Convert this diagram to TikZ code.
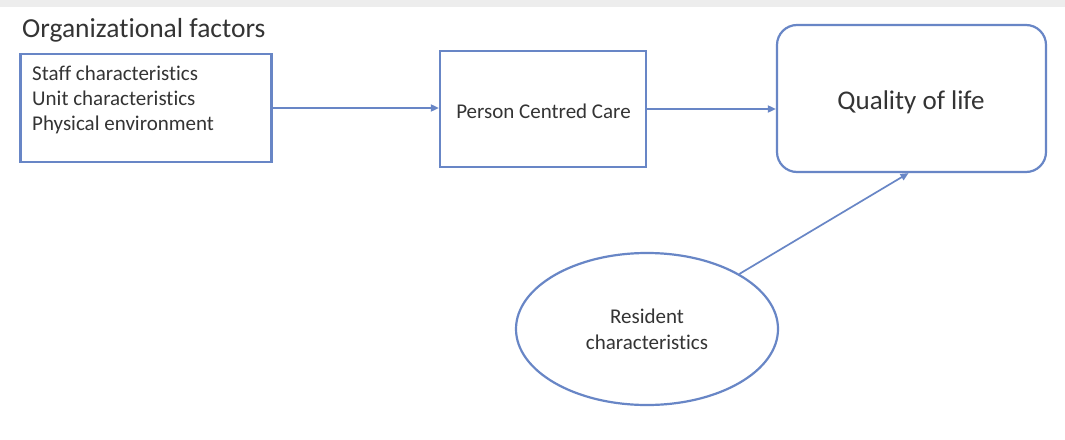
\documentclass[tikz,border=0pt]{standalone}
\usepackage{fontspec}
\setmainfont{Carlito}[Ligatures={NoCommon,NoContextual}]
\usetikzlibrary{arrows.meta,shapes.geometric}
\definecolor{lineblue}{RGB}{104,134,198}
\definecolor{txt}{RGB}{52,52,52}
\begin{document}
\begin{tikzpicture}[x=1pt,y=-1pt,
  box/.style={draw=lineblue, line width=2.2pt, inner sep=0pt, fill=white},
  conn/.style={draw=lineblue, line width=1.7pt, -{Triangle[length=8pt,width=7pt]}},
  lbl/.style={text=txt, inner sep=0pt, font=\fontsize{21}{26}\selectfont}]
\useasboundingbox (0,0) rectangle (1065,439);
\fill[white] (0,0) rectangle (1065,439);
\fill[black!7] (0,0) rectangle (1065,7);

% organizational factors
\node[lbl, font=\fontsize{27.5}{33}\selectfont, anchor=base west] (title) at (22,37) {Organizational factors};
\node[box, minimum width=251, minimum height=108] (org) at (146,108) {};
\node[lbl, anchor=base west] (s1) at (32,80) {Staff characteristics};
\node[lbl, anchor=base west] (s2) at (32,105) {Unit characteristics};
\node[lbl, anchor=base west] (s3) at (32,130) {Physical environment};

% person centred care
\node[box, minimum width=206, minimum height=116] (pcc) at (543,109) {};
\node[lbl, anchor=base] (pcct) at (543.5,118.5) {Person Centred Care};

% quality of life
\node[box, rounded corners=20pt, minimum width=269, minimum height=147] (qol) at (911.5,98.5) {};
\node[lbl, font=\fontsize{27}{32}\selectfont, anchor=base] (qolt) at (911,109) {Quality of life};

% resident characteristics
\node[box, ellipse, minimum width=262, minimum height=152] (res) at (647,329) {};
\node[lbl, anchor=base] (r1) at (647,323) {Resident};
\node[lbl, anchor=base] (r2) at (647,349) {characteristics};

% connectors
\draw[conn] (org.east) -- (org.east -| pcc.west);
\draw[conn] (pcc.east) -- (pcc.east -| qol.west);
\draw[conn] (res) -- ([xshift=-3pt]qol.south);
\end{tikzpicture}
\end{document}
